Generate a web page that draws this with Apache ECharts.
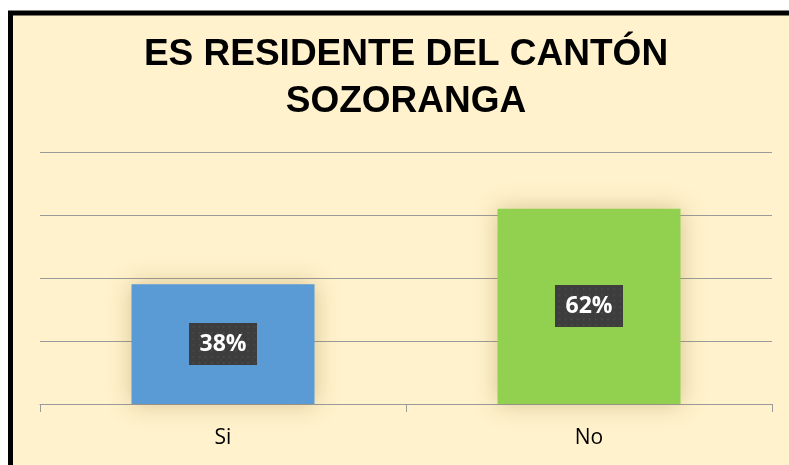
<!DOCTYPE html>
<html>
<head>
<meta charset="utf-8">
<script src="https://cdn.jsdelivr.net/npm/echarts@6/dist/echarts.min.js"></script>
<style>
  html, body { margin: 0; padding: 0; background: #fff; }
  #chart { width: 789px; height: 465px; }
</style>
</head>
<body>
<div id="chart"></div>
<script>
var titleLines = ['ES RESIDENTE DEL CANTÓN', 'SOZORANGA'];
var categories = ['Si', 'No'];
var shares = [0.38, 0.62];
var barColors = ['#5B9BD5', '#92D050'];
var axisMax = 0.8, axisStep = 0.2;

// dark dotted box behind the value labels
function dotPattern(){
    var c = document.createElement('canvas');
    c.width = 66; c.height = 42;
    var ctx = c.getContext('2d');
    ctx.fillStyle = '#3d3d3d';
    ctx.fillRect(0, 0, c.width, c.height);
    ctx.fillStyle = '#505050';
    for (var y = 3; y < c.height; y += 6) {
        for (var x = 3; x < c.width; x += 6) {
            ctx.fillRect(x, y, 1.5, 1.5);
        }
    }
    return c;
}

var chart = echarts.init(document.getElementById('chart'), null, {renderer: 'canvas'});

chart.setOption({
    backgroundColor: '#fff',
    animation: false,
    graphic: [
        {
            type: 'rect', z: -10, silent: true,
            shape: {x: 10.5, y: 13, width: 900, height: 600},
            style: {fill: '#FFF2CC', stroke: '#000', lineWidth: 5}
        },
        {
            type: 'text', z: 10, silent: true,
            x: 406, y: 31,
            style: {
                text: titleLines.join('\n'),
                align: 'center', verticalAlign: 'top',
                font: 'bold 37px "Liberation Sans", Arial, sans-serif',
                lineHeight: 47, fill: '#000'
            }
        }
    ],
    grid: {left: 40, right: 17, top: 152, bottom: 61, containLabel: false},
    xAxis: {
        type: 'category',
        data: categories,
        axisLine: {lineStyle: {color: '#9a9a9a', width: 1}},
        axisTick: {show: true, length: 8, alignWithLabel: false, lineStyle: {color: '#9a9a9a'}},
        axisLabel: {color: '#000', fontFamily: 'Open Sans', fontSize: 21, margin: 24}
    },
    yAxis: {
        type: 'value', min: 0, max: axisMax, interval: axisStep,
        axisLine: {show: false}, axisTick: {show: false}, axisLabel: {show: false},
        splitLine: {lineStyle: {color: '#9a9a9a', width: 1}}
    },
    series: [{
        type: 'bar',
        barWidth: '50%',
        data: shares.map(function(v, i){
            return {value: v, itemStyle: {color: barColors[i]}};
        }),
        itemStyle: {shadowBlur: 22, shadowColor: 'rgba(140,110,40,0.35)'},
        label: {
            show: true,
            position: 'inside',
            formatter: function(p){ return Math.round(p.value * 100) + '%'; },
            color: '#fff',
            fontFamily: 'Open Sans',
            fontWeight: 'bold',
            fontSize: 23,
            lineHeight: 26,
            padding: [8, 10],
            backgroundColor: {image: dotPattern()},
            shadowColor: 'rgba(0,0,0,0.45)',
            shadowBlur: 6,
            shadowOffsetX: 3,
            shadowOffsetY: 3
        }
    }]
});
</script>
</body>
</html>
